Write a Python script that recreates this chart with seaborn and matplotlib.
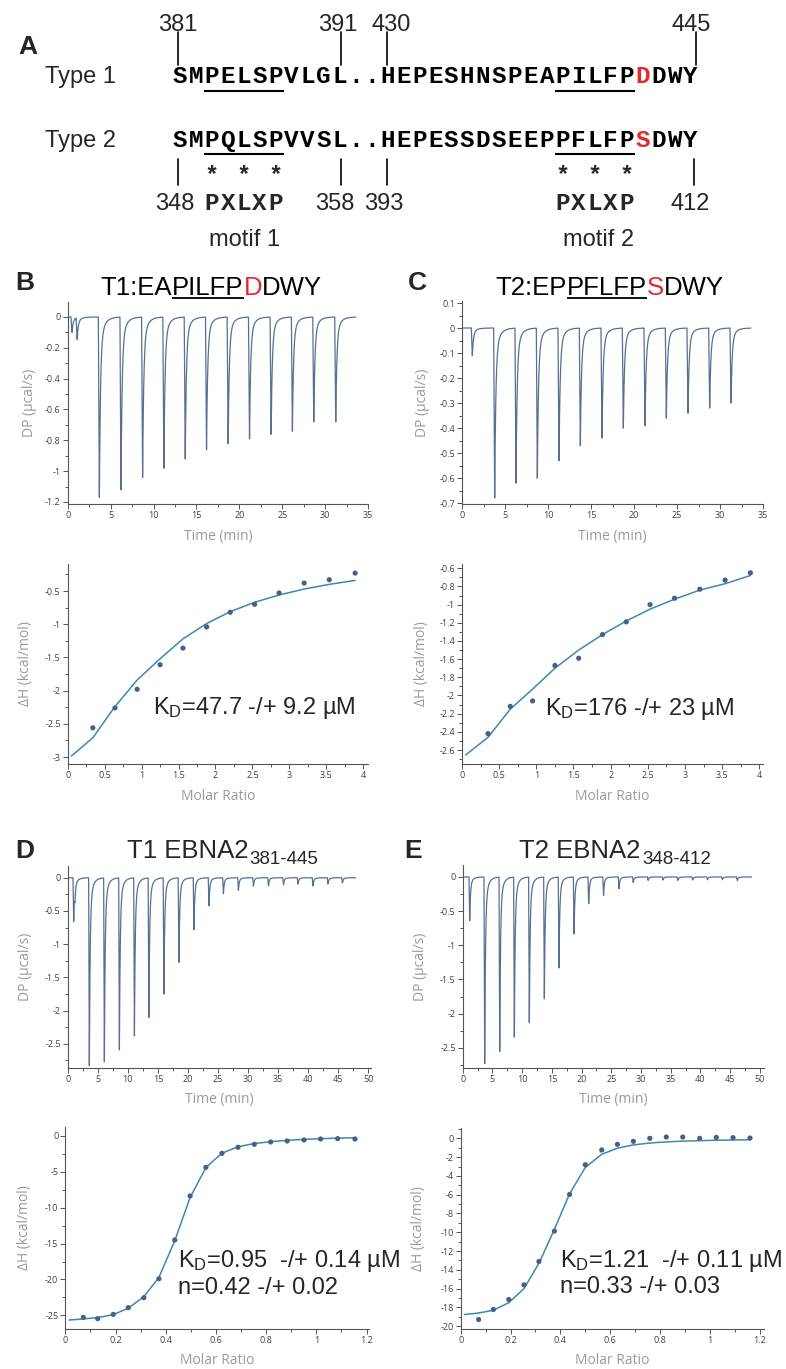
import numpy as np
import pandas as pd
import matplotlib
matplotlib.use("Agg")
import matplotlib.pyplot as plt
import matplotlib.ticker as mtick
import seaborn as sns

# --- Panel A: Sequenzen ---
type1_seq = "SMPELSPVLGL..HEPESHNSPEAPILFPDDWY"
type2_seq = "SMPQLSPVVSL..HEPESSDSEEPPFLFPSDWY"
red_pos = 29
motif_pos = [(2, 6), (24, 28)]
row1_nums = ["381", "391", "430", "445"]
row2_nums = ["348", "358", "393", "412"]

# --- B: T1 Peptid ---
b_inj_t = [0.5, 1.1, 3.69, 6.21, 8.73, 11.21, 13.70, 16.18, 18.70, 21.19, 23.71, 26.19, 28.68, 31.24]
b_inj_dp = [-0.10, -0.14, -1.17, -1.12, -1.04, -0.98, -0.92, -0.86, -0.82, -0.79, -0.76, -0.74, -0.68, -0.68]
b_t_end = 33.6
b_ratio = [0.34, 0.64, 0.94, 1.25, 1.56, 1.88, 2.20, 2.53, 2.86, 3.20, 3.54, 3.89]
b_dh = [-2.56, -2.26, -1.98, -1.61, -1.36, -1.04, -0.82, -0.70, -0.53, -0.38, -0.33, -0.23]
b_fit_ratio = [0.05, 0.34, 0.64, 0.94, 1.25, 1.56, 1.88, 2.20, 2.53, 2.86, 3.20, 3.54, 3.89]
b_fit_dh = [-2.985, -2.71, -2.24, -1.84, -1.52, -1.22, -0.99, -0.81, -0.67, -0.56, -0.47, -0.40, -0.34]

# --- C: T2 Peptid ---
c_inj_t = [1.2, 3.80, 6.28, 8.76, 11.28, 13.76, 16.28, 18.76, 21.28, 23.76, 26.28, 28.80, 31.28]
c_inj_dp = [-0.11, -0.68, -0.62, -0.60, -0.53, -0.47, -0.44, -0.40, -0.39, -0.36, -0.34, -0.32, -0.30]
c_t_end = 33.6
c_ratio = [0.35, 0.65, 0.95, 1.25, 1.57, 1.89, 2.21, 2.53, 2.86, 3.20, 3.54, 3.88]
c_dh = [-2.42, -2.12, -2.06, -1.67, -1.59, -1.33, -1.19, -1.00, -0.93, -0.83, -0.73, -0.65]
c_fit_ratio = [0.05, 0.35, 0.65, 0.95, 1.25, 1.57, 1.89, 2.21, 2.53, 2.86, 3.20, 3.54, 3.88]
c_fit_dh = [-2.655, -2.46, -2.15, -1.93, -1.70, -1.50, -1.33, -1.18, -1.05, -0.94, -0.84, -0.77, -0.68]

# --- D: T1 EBNA2 381-445 ---
d_inj_t = [1.0, 1.2, 3.6, 6.1, 8.6, 11.1, 13.5, 16.0, 18.5, 21.0, 23.5, 25.9, 28.4, 30.9,
           33.4, 35.9, 38.3, 40.8, 43.3, 45.7]
d_inj_dp = [-0.66, -0.19, -2.83, -2.77, -2.59, -2.38, -2.10, -1.75, -1.27, -0.78, -0.42, -0.24,
            -0.19, -0.125, -0.12, -0.105, -0.095, -0.125, -0.095, -0.08]
d_t_end = 47.9
d_ratio = [0.072, 0.129, 0.191, 0.251, 0.313, 0.373, 0.436, 0.497, 0.560, 0.624, 0.688, 0.753,
           0.818, 0.884, 0.951, 1.017, 1.085, 1.154]
d_dh = [-25.28, -25.46, -24.86, -23.93, -22.54, -19.89, -14.50, -8.36, -4.37, -2.42, -1.58, -1.16,
        -0.84, -0.70, -0.56, -0.42, -0.37, -0.42]
d_fit_ratio = [0.015] + d_ratio
d_fit_dh = [-25.65, -25.5, -25.3, -24.9, -24.0, -22.4, -19.7, -14.6, -8.6, -4.4, -2.4, -1.5, -1.05,
            -0.8, -0.6, -0.48, -0.38, -0.3, -0.25]

# --- E: T2 EBNA2 348-412 ---
e_inj_t = [1.18, 3.70, 6.23, 8.69, 11.21, 13.74, 16.2, 18.74, 21.2, 23.7, 26.3, 28.7, 31.2, 33.7,
           36.2, 38.7, 41.2, 43.7, 46.2]
e_inj_dp = [-0.64, -2.73, -2.55, -2.34, -2.13, -1.78, -1.33, -0.83, -0.39, -0.27, -0.17, -0.08,
            -0.05, -0.045, -0.05, -0.045, -0.04, -0.04, -0.05]
e_t_end = 48.6
e_ratio = [0.072, 0.131, 0.193, 0.254, 0.314, 0.376, 0.437, 0.500, 0.566, 0.629, 0.693, 0.759,
           0.825, 0.891, 0.959, 1.026, 1.093, 1.161]
e_dh = [-19.29, -18.22, -17.16, -15.60, -13.11, -9.88, -5.97, -2.81, -1.24, -0.64, -0.32, 0.0,
        0.14, 0.14, 0.0, 0.10, 0.07, 0.03]
e_fit_ratio = [0.015] + e_ratio
e_fit_dh = [-18.76, -18.6, -18.3, -17.5, -16.0, -13.3, -9.7, -5.9, -3.1, -1.7, -1.05, -0.7, -0.5,
            -0.38, -0.3, -0.25, -0.2, -0.18, -0.15]

W, H = 786, 1369
TRACE = "#557094"
FIT = "#3d88b2"
DOT = "#4a5f88"
RED = "#e42a2a"

sns.set_theme(style="ticks")
plt.rcParams['font.family'] = ['Open Sans', 'DejaVu Sans']
plt.rcParams['axes.unicode_minus'] = False
plt.rcParams['mathtext.default'] = 'regular'

fig = plt.figure(figsize=(W / 100, H / 100), dpi=100)


def px_axes(l, r, t, b):
    return fig.add_axes([l / W, 1 - b / H, (r - l) / W, (b - t) / H])


def dp_trace(inj_t, inj_dp, t_end):
    # Thermogramm aus Injektionszeiten und Peaktiefen
    t = np.arange(0.1, t_end, 0.01)
    y = np.zeros_like(t)
    for t0, d in zip(inj_t, inj_dp):
        ramp = (t > t0 - 0.12) & (t <= t0)
        y[ramp] += d * (t[ramp] - (t0 - 0.12)) / 0.12
        after = t > t0
        dt = t[after] - t0
        y[after] += d * (0.85 * np.exp(-dt / 0.13) + 0.15 * np.exp(-dt / 0.5))
    return pd.DataFrame({"t": t, "dp": y})


fmt = mtick.FuncFormatter(lambda v, p: "0" if abs(v) < 1e-9 else f"{v:g}")


def style(ax, xlim, ylim, xm, ym, xlabel, ylabel, ylab_px, xlab_px=32):
    ax.set_xlim(*xlim)
    ax.set_ylim(*ylim)
    ax.xaxis.set_major_locator(mtick.MultipleLocator(xm))
    ax.xaxis.set_minor_locator(mtick.MultipleLocator(xm / 2))
    ax.yaxis.set_major_locator(mtick.MultipleLocator(ym))
    ax.yaxis.set_minor_locator(mtick.MultipleLocator(ym / 2))
    ax.xaxis.set_major_formatter(fmt)
    ax.yaxis.set_major_formatter(fmt)
    sns.despine(ax=ax)
    for s in ["left", "bottom"]:
        ax.spines[s].set_color("#555555")
        ax.spines[s].set_linewidth(0.8)
    ax.tick_params(which="major", direction="out", length=3.5, width=0.7, color="#555555",
                   labelsize=6.5, labelcolor="#404040", pad=1.5)
    ax.tick_params(which="minor", direction="out", length=2.5, width=0.7, color="#555555")
    bb = ax.get_position()
    wpx, hpx = bb.width * W, bb.height * H
    ax.set_xlabel(xlabel, color="#9a9a9a", fontsize=10, va="center")
    ax.set_ylabel(ylabel, color="#9a9a9a", fontsize=10, va="center")
    ax.xaxis.set_label_coords(0.5, -xlab_px / hpx)
    ax.yaxis.set_label_coords(-ylab_px / wpx, 0.5)
    ax.grid(False)


def trace_panel(box, inj_t, inj_dp, t_end, xlim, ylim, xm, ym, ylab_px):
    ax = px_axes(*box)
    df = dp_trace(inj_t, inj_dp, t_end)
    sns.lineplot(data=df, x="t", y="dp", ax=ax, color=TRACE, lw=0.9, estimator=None, sort=False)
    style(ax, xlim, ylim, xm, ym, "Time (min)", "DP (µcal/s)", ylab_px)
    return ax


def iso_panel(box, ratio, dh, fit_x, fit_y, xlim, ylim, xm, ym, ylab_px):
    ax = px_axes(*box)
    sns.lineplot(x=fit_x, y=fit_y, ax=ax, color=FIT, lw=1.1, estimator=None, sort=False)
    sns.scatterplot(x=ratio, y=dh, ax=ax, color=DOT, s=14, edgecolor="none", linewidth=0, zorder=3)
    style(ax, xlim, ylim, xm, ym, "Molar Ratio", "ΔH (kcal/mol)", ylab_px)
    return ax


trace_panel((67.7, 368, 302, 504), b_inj_t, b_inj_dp, b_t_end, (0, 35), (-1.213, 0.097), 5, 0.2, 38)
iso_panel((67.7, 368, 564, 764), b_ratio, b_dh, b_fit_ratio, b_fit_dh, (0, 4.064), (-3.105, -0.093), 0.5, 0.5, 42)
trace_panel((462, 763, 301, 504), c_inj_t, c_inj_dp, c_t_end, (0, 35), (-0.704, 0.108), 5, 0.1, 40)
iso_panel((462, 763, 564, 764), c_ratio, c_dh, c_fit_ratio, c_fit_dh, (0, 4.05), (-2.754, -0.553), 0.5, 0.2, 41)
trace_panel((67.7, 371, 866, 1068), d_inj_t, d_inj_dp, d_t_end, (0, 50.45), (-2.865, 0.177), 5, 0.5, 42)
iso_panel((65.3, 369.3, 1127, 1329), d_ratio, d_dh, d_fit_ratio, d_fit_dh, (0, 1.211), (-26.9, 1.25), 0.2, 5, 41)
trace_panel((462.7, 764, 865, 1068), e_inj_t, e_inj_dp, e_t_end, (0, 50.7), (-2.795, 0.175), 5, 0.5, 42)
iso_panel((460.7, 763.7, 1128, 1329), e_ratio, e_dh, e_fit_ratio, e_fit_dh, (0, 1.216), (-20.3, 1.1), 0.2, 2, 42)

# Overlay in Pixelkoordinaten (y nach unten)
ov = fig.add_axes([0, 0, 1, 1])
ov.set_xlim(0, W)
ov.set_ylim(H, 0)
ov.axis("off")
ov.set_autoscale_on(False)

SANS = "Liberation Sans"
MONO = "Liberation Mono"
renderer = fig.canvas.get_renderer()


def text_w(s, size):
    t = ov.text(0, 0, s, fontsize=size, family=SANS)
    w = t.get_window_extent(renderer).width
    t.remove()
    return w


def title_parts(xc, yb, parts, size):
    # Teile eines Titels nebeneinander, Position über Präfixbreiten
    full = "".join(s for s, _, _ in parts)
    total = text_w(full, size)
    x0 = xc - total / 2
    prefix = ""
    for s, col, ul in parts:
        right = text_w(prefix + s, size)
        w = text_w(s, size)
        xl = x0 + right - w
        ov.text(xl, yb, s, color=col, fontsize=size, family=SANS, ha="left", va="baseline")
        if ul:
            ov.plot([xl, xl + w], [yb + 2.5, yb + 2.5], color="black", lw=1.3, solid_capstyle="butt")
        prefix += s


def sub_title(xc, yb, main, sub, size, sub_size):
    wm = text_w(main, size)
    ws = text_w(sub, sub_size)
    x0 = xc - (wm + ws + 1.5) / 2
    ov.text(x0, yb, main, fontsize=size, family=SANS, ha="left", va="baseline")
    ov.text(x0 + wm + 1.5, yb + 6, sub, fontsize=sub_size, family=SANS, ha="left", va="baseline")


# Panel-Buchstaben
for lab, x, y in [("A", 28, 54), ("B", 25, 290), ("C", 417.5, 290), ("D", 25, 858), ("E", 413, 858)]:
    ov.text(x, y, lab, family=SANS, weight="bold", fontsize=19, ha="center", va="baseline")

# Titel
TS = 18.5
title_parts(211.5, 295, [("T1:EA", "black", False), ("PILFP", "black", True),
                         ("D", RED, False), ("DWY", "black", False)], TS)
title_parts(609.5, 295, [("T2:EP", "black", False), ("PFLFP", "black", True),
                         ("S", RED, False), ("DWY", "black", False)], TS)
sub_title(222.5, 858, "T1 EBNA2", "381-445", TS, 13.5)
sub_title(615, 858, "T2 EBNA2", "348-412", TS, 13.5)

# K_D Angaben
KS = 17
ov.text(153, 714, "K$_{D}$=47.7 -/+ 9.2 µM", family=SANS, fontsize=KS, va="baseline")
ov.text(544.7, 715, "K$_{D}$=176 -/+ 23 µM", family=SANS, fontsize=KS, va="baseline")
ov.text(178, 1266.7, "K$_{D}$=0.95  -/+ 0.14 µM", family=SANS, fontsize=KS, va="baseline")
ov.text(178, 1294, "n=0.42 -/+ 0.02", family=SANS, fontsize=KS, va="baseline")
ov.text(560, 1266.7, "K$_{D}$=1.21  -/+ 0.11 µM", family=SANS, fontsize=KS, va="baseline")
ov.text(560, 1293, "n=0.33 -/+ 0.03", family=SANS, fontsize=KS, va="baseline")

# Panel A
p = 15.95
sx0 = 172.0
ov.text(45, 83.3, "Type 1", family=SANS, fontsize=17, va="baseline")
ov.text(45, 146.7, "Type 2", family=SANS, fontsize=17, va="baseline")
for seq, base, ul_y in [(type1_seq, 83.3, 90.7), (type2_seq, 146.7, 154)]:
    for i, ch in enumerate(seq):
        ov.text(sx0 + (i + 0.5) * p, base, ch, family=MONO, weight="bold", fontsize=17.5,
                ha="center", va="baseline", color=RED if i == red_pos else "black")
    for a, b in motif_pos:
        ov.plot([sx0 + a * p, sx0 + (b + 1) * p], [ul_y, ul_y], color="black", lw=1.5,
                solid_capstyle="butt")

for a, b in motif_pos:
    for k in (a, a + 2, a + 4):
        ov.text(sx0 + (k + 0.5) * p, 182, "*", family=MONO, weight="bold", fontsize=17,
                ha="center", va="baseline")
    for j, ch in enumerate("PXLXP"):
        ov.text(sx0 + (a + j + 0.5) * p, 210, ch, family=MONO, weight="bold", fontsize=17.5,
                ha="center", va="baseline")

for lab, xc in zip(row1_nums, [177.5, 337.5, 391.5, 691]):
    ov.text(xc, 30.7, lab, family=SANS, fontsize=17, ha="center", va="baseline")
for xl in [177.5, 340.5, 386.5, 696]:
    ov.plot([xl, xl], [31.7, 65], color="black", lw=1.2)
for lab, xc in zip(row2_nums, [175, 335, 384, 690.5]):
    ov.text(xc, 210, lab, family=SANS, fontsize=17, ha="center", va="baseline")
for xl in [177.5, 340.5, 386.5, 693.5]:
    ov.plot([xl, xl], [159.3, 185], color="black", lw=1.2)

ov.text(245, 246, "motif 1", family=SANS, fontsize=17, ha="center", va="baseline")
ov.text(599, 246, "motif 2", family=SANS, fontsize=17, ha="center", va="baseline")

fig.savefig("out.png", dpi=100)
